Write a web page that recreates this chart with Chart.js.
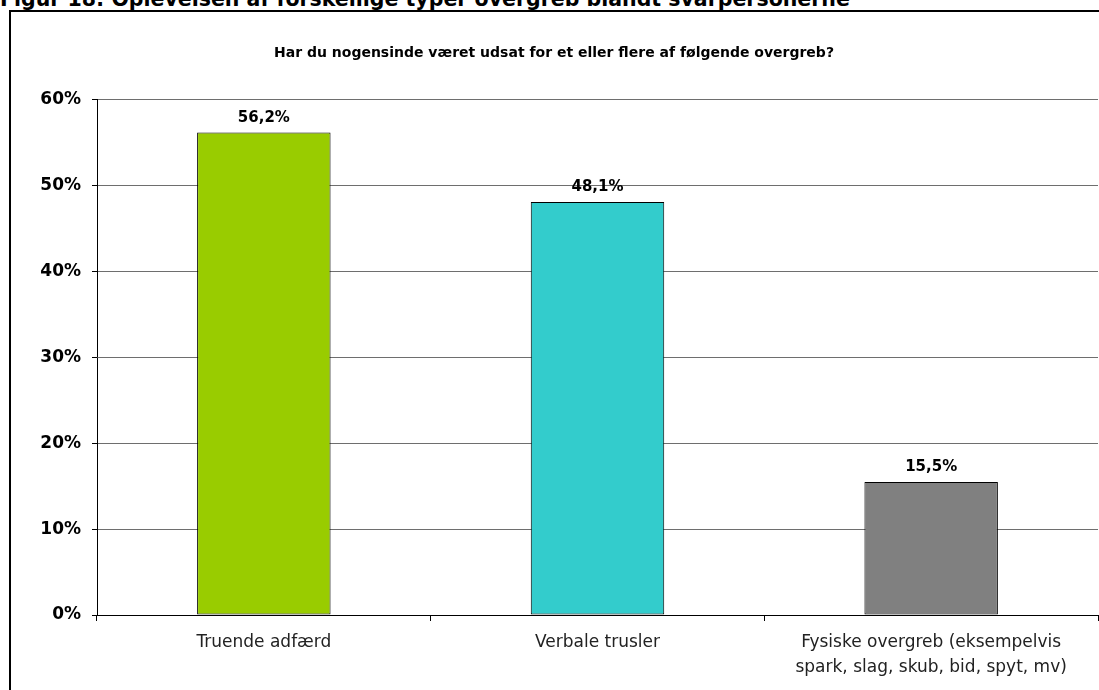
<!DOCTYPE html>
<html>
<head>
<meta charset="utf-8">
<script src="https://cdn.jsdelivr.net/npm/chart.js@4"></script>
<style>
  body { margin: 0; background: #fff; overflow: hidden; }
  #wrap { position: relative; width: 1099px; height: 690px; }
  #figtitle {
    position: absolute; left: 0; top: -12px;
    font: bold 20.5px "DejaVu Sans", Verdana, sans-serif; color: #000;
    white-space: nowrap; line-height: 22px;
  }
  #box {
    position: absolute; left: 9px; top: 10px; width: 1100px; height: 700px;
    border: 2px solid #000; box-sizing: border-box;
  }
  canvas { position: absolute; left: 0; top: 0; }
</style>
</head>
<body>
<div id="wrap">
  <div id="figtitle">Figur 18: Oplevelsen af forskellige typer overgreb blandt svarpersonerne</div>
  <div id="box"></div>
  <canvas id="chart" width="1099" height="690"></canvas>
</div>
<script>
// data
const categories = [
  'Truende adfærd',
  'Verbale trusler',
  ['Fysiske overgreb (eksempelvis', 'spark, slag, skub, bid, spyt, mv)']
];
const values = [56.2, 48.1, 15.5];
const barColors = ['#99CC00', '#33CCCC', '#808080'];
const yTicks = [0, 10, 20, 30, 40, 50, 60];

const fontFamily = '"DejaVu Sans", Verdana, sans-serif';

// labels over the bars, like 56,2%
const valueLabels = {
  id: 'valueLabels',
  afterDatasetsDraw(chart) {
    const ctx = chart.ctx;
    const meta = chart.getDatasetMeta(0);
    ctx.save();
    ctx.font = 'bold 15px ' + fontFamily;
    ctx.fillStyle = '#000';
    ctx.textAlign = 'center';
    ctx.textBaseline = 'bottom';
    meta.data.forEach((bar, i) => {
      ctx.fillText(values[i].toFixed(1).replace('.', ',') + '%', bar.x, bar.y - 7);
    });
    ctx.restore();
  }
};

new Chart(document.getElementById('chart').getContext('2d'), {
  type: 'bar',
  data: {
    labels: categories,
    datasets: [{
      data: values,
      backgroundColor: barColors,
      borderColor: '#000',
      borderWidth: 1,
      borderSkipped: false,
      barPercentage: 0.4,
      categoryPercentage: 1.0
    }]
  },
  options: {
    responsive: false,
    animation: false,
    layout: { padding: { left: 10, right: 1, top: 0, bottom: 0 } },
    plugins: {
      legend: { display: false },
      tooltip: { enabled: false },
      title: {
        display: true,
        text: 'Har du nogensinde været udsat for et eller flere af følgende overgreb?',
        color: '#000',
        font: { family: fontFamily, size: 14, weight: 'bold' },
        padding: { top: 45, bottom: 38 }
      }
    },
    scales: {
      y: {
        min: 0,
        max: 60,
        afterBuildTicks(scale) { scale.ticks = yTicks.map(v => ({ value: v })); },
        afterFit(scale) { scale.width = 87; },
        border: { color: '#000', width: 1 },
        grid: { color: '#6e6e6e', lineWidth: 1, tickLength: 5, tickColor: '#000' },
        ticks: {
          color: '#000',
          padding: 11,
          font: { family: fontFamily, size: 17, weight: 'bold' },
          callback: v => v + '%'
        }
      },
      x: {
        afterFit(scale) { scale.height = 75; },
        border: { color: '#000', width: 1 },
        grid: { offset: true, drawOnChartArea: false, tickLength: 6, color: '#000' },
        ticks: {
          color: '#222',
          padding: 9,
          font: { family: fontFamily, size: 17, lineHeight: '25px' }
        }
      }
    }
  },
  plugins: [valueLabels]
});
</script>
</body>
</html>
